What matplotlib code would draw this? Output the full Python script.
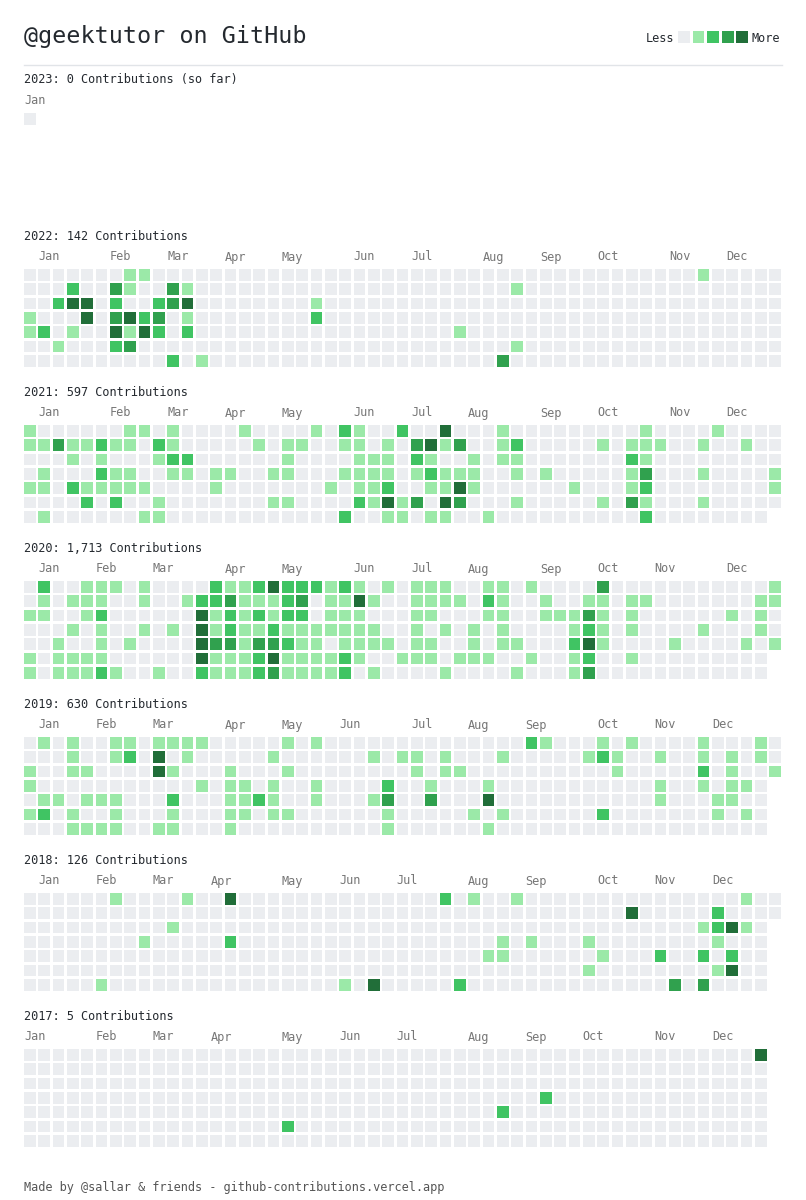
"""
Calendario de contribuciones de GitHub (@geektutor), 2017-2023.
Cada celda es un día; el color indica el nivel de actividad (0-4).
"""

import datetime as dt

import matplotlib
matplotlib.use("Agg")
import matplotlib.pyplot as plt
from matplotlib.patches import Rectangle

USER = "geektutor"
YEARS = [2023, 2022, 2021, 2020, 2019, 2018, 2017]
TOTALS = [0, 142, 597, 1713, 630, 126, 5]
LAST_DAYS = ["2023-01-01", "2022-12-31", "2021-12-31", "2020-12-31",
             "2019-12-31", "2018-12-31", "2017-12-30"]
MONTHS = ["Jan", "Feb", "Mar", "Apr", "May", "Jun",
          "Jul", "Aug", "Sep", "Oct", "Nov", "Dec"]
LEVEL_COLORS = ["#ebedf0", "#9be9a8", "#40c463", "#30a14e", "#216e39"]

# niveles por fila (Dom..Sáb): {semana: nivel}; lo que no aparece es 0
LEVELS_2023 = [{}, {}, {}, {}, {}, {}, {}]
LEVELS_2022 = [
    {7: 1, 8: 1, 47: 1},
    {3: 2, 6: 3, 7: 1, 10: 3, 11: 1, 34: 1},
    {2: 2, 3: 4, 4: 4, 6: 2, 9: 2, 10: 3, 11: 4, 20: 1},
    {0: 1, 4: 4, 6: 3, 7: 4, 8: 2, 9: 3, 11: 1, 20: 2},
    {0: 1, 1: 2, 3: 1, 6: 4, 7: 1, 8: 4, 9: 2, 11: 2, 30: 1},
    {2: 1, 6: 2, 7: 3, 34: 1},
    {10: 2, 12: 1, 33: 3},
]
LEVELS_2021 = [
    {0: 1, 7: 1, 8: 1, 10: 1, 15: 1, 20: 1, 22: 2, 23: 1, 26: 2, 29: 4,
     33: 1, 43: 1, 48: 1},
    {0: 1, 1: 1, 2: 3, 3: 1, 4: 1, 5: 2, 6: 1, 7: 1, 9: 2, 10: 1, 16: 1,
     18: 1, 19: 1, 22: 1, 23: 1, 25: 1, 27: 3, 28: 4, 29: 1, 30: 3, 33: 1,
     34: 2, 40: 1, 42: 1, 43: 1, 44: 1, 47: 1, 50: 1},
    {3: 1, 5: 1, 9: 1, 10: 2, 11: 2, 18: 1, 23: 1, 24: 1, 25: 1, 27: 2,
     28: 1, 31: 1, 33: 1, 34: 1, 42: 2, 43: 1},
    {1: 1, 5: 2, 6: 1, 7: 1, 10: 1, 11: 1, 13: 1, 14: 1, 17: 1, 18: 1,
     22: 1, 23: 1, 24: 1, 25: 1, 27: 1, 28: 2, 29: 1, 30: 1, 31: 1, 34: 1,
     36: 1, 42: 1, 43: 3, 47: 1, 52: 1},
    {0: 1, 1: 1, 3: 2, 4: 1, 5: 1, 6: 1, 7: 1, 8: 1, 13: 1, 21: 1, 23: 1,
     24: 1, 25: 2, 28: 1, 29: 1, 30: 4, 31: 1, 38: 1, 42: 1, 43: 2, 52: 1},
    {4: 2, 6: 2, 9: 1, 17: 1, 18: 1, 23: 2, 24: 1, 25: 4, 26: 1, 27: 3,
     29: 4, 30: 3, 34: 1, 40: 1, 42: 3, 43: 1, 47: 1},
    {1: 1, 8: 1, 9: 1, 22: 2, 25: 1, 26: 1, 28: 1, 29: 1, 32: 1, 43: 2},
]
LEVELS_2020 = [
    {1: 2, 4: 1, 5: 1, 6: 1, 8: 1, 13: 2, 14: 1, 15: 1, 16: 2, 17: 4,
     18: 2, 19: 2, 20: 2, 21: 1, 22: 2, 23: 1, 25: 1, 27: 1, 28: 1, 29: 1,
     32: 1, 33: 1, 35: 1, 40: 3, 52: 1},
    {1: 1, 3: 1, 4: 1, 5: 1, 8: 1, 11: 1, 12: 2, 13: 2, 14: 3, 15: 1,
     16: 1, 17: 1, 18: 2, 19: 3, 21: 1, 22: 1, 23: 4, 24: 1, 27: 1, 28: 1,
     29: 1, 30: 1, 32: 2, 33: 1, 36: 1, 39: 1, 40: 1, 42: 1, 43: 1, 51: 1,
     52: 1},
    {0: 1, 1: 1, 4: 1, 5: 2, 12: 4, 13: 1, 14: 2, 15: 1, 16: 2, 17: 1,
     18: 2, 19: 2, 21: 1, 22: 1, 23: 1, 27: 1, 28: 1, 32: 1, 33: 1, 36: 1,
     37: 1, 38: 1, 39: 3, 40: 1, 42: 1, 49: 1, 51: 1},
    {3: 1, 5: 1, 8: 1, 10: 1, 12: 4, 13: 1, 14: 2, 15: 1, 16: 1, 17: 2,
     18: 1, 19: 1, 20: 1, 21: 1, 22: 1, 23: 1, 24: 1, 27: 1, 29: 1, 31: 1,
     33: 1, 38: 1, 39: 2, 40: 1, 42: 1, 47: 1, 51: 1},
    {2: 1, 5: 1, 7: 1, 12: 4, 13: 3, 14: 3, 15: 1, 16: 3, 17: 3, 18: 2,
     19: 1, 20: 1, 22: 1, 23: 1, 24: 1, 25: 1, 27: 1, 28: 1, 31: 1, 33: 1,
     34: 1, 38: 2, 39: 4, 40: 1, 45: 1, 50: 1, 52: 1},
    {0: 1, 2: 1, 3: 1, 4: 1, 5: 1, 12: 4, 13: 1, 14: 1, 15: 1, 16: 2,
     17: 4, 18: 1, 19: 1, 20: 1, 21: 1, 22: 2, 23: 1, 26: 1, 27: 1, 28: 1,
     30: 1, 31: 1, 32: 1, 35: 1, 38: 1, 39: 2, 42: 1},
    {0: 1, 2: 1, 3: 1, 4: 1, 5: 2, 6: 1, 9: 1, 12: 2, 13: 1, 14: 1, 15: 1,
     16: 2, 17: 3, 18: 1, 19: 1, 20: 1, 21: 1, 22: 2, 24: 1, 29: 1, 34: 1,
     38: 1, 39: 3},
]
LEVELS_2019 = [
    {1: 1, 3: 1, 6: 1, 7: 1, 9: 1, 10: 1, 11: 1, 12: 1, 18: 1, 20: 1,
     35: 2, 36: 1, 40: 1, 42: 1, 47: 1, 51: 1},
    {3: 1, 6: 1, 7: 2, 9: 4, 11: 1, 17: 1, 24: 1, 26: 1, 27: 1, 29: 1,
     33: 1, 39: 1, 40: 2, 41: 1, 44: 1, 47: 1, 49: 1, 51: 1},
    {0: 1, 3: 1, 4: 1, 9: 4, 10: 1, 14: 1, 18: 1, 27: 1, 29: 1, 30: 1,
     41: 1, 47: 2, 49: 1, 52: 1},
    {0: 1, 12: 1, 14: 1, 15: 1, 17: 1, 20: 1, 25: 2, 28: 1, 32: 1, 44: 1,
     47: 1, 49: 1, 50: 1},
    {1: 1, 2: 1, 4: 1, 5: 1, 6: 1, 10: 2, 14: 1, 15: 1, 16: 2, 17: 1,
     20: 1, 24: 1, 25: 3, 28: 3, 32: 4, 44: 1, 48: 1, 49: 1},
    {0: 1, 1: 2, 3: 1, 6: 1, 10: 1, 14: 1, 15: 1, 17: 1, 18: 1, 25: 1,
     31: 1, 33: 1, 40: 2, 48: 1, 50: 1},
    {3: 1, 4: 1, 5: 1, 6: 1, 9: 1, 10: 1, 14: 1, 25: 1, 32: 1},
]
LEVELS_2018 = [
    {6: 1, 11: 1, 14: 4, 29: 2, 31: 1, 34: 1, 50: 1},
    {42: 4, 48: 2},
    {10: 1, 47: 1, 48: 2, 49: 4, 50: 1},
    {8: 1, 14: 2, 33: 1, 35: 1, 39: 1, 48: 1},
    {32: 1, 33: 1, 40: 1, 44: 2, 47: 2, 49: 2},
    {39: 1, 48: 1, 49: 4},
    {5: 1, 22: 1, 24: 4, 30: 2, 45: 3, 47: 3},
]
LEVELS_2017 = [
    {51: 4},
    {},
    {},
    {36: 2},
    {33: 2},
    {18: 2},
    {},
]
LEVELS = [LEVELS_2023, LEVELS_2022, LEVELS_2021, LEVELS_2020,
          LEVELS_2019, LEVELS_2018, LEVELS_2017]

# medidas en píxeles
LEFT = 24
RIGHT = 782
PITCH = 14.33
CELL = 11.8
FIRST_TOP = 113
BLOCK = 156

TEXT = "#24292f"
MUTED = "#767676"


def inicio_calendario(year):
    """Domingo en o antes del 1 de enero."""
    d = dt.date(year, 1, 1)
    return d - dt.timedelta(days=(d.weekday() + 1) % 7)


def dibujar_anio(ax, top, year, total, last_day, levels):
    start = inicio_calendario(year)
    end = dt.date.fromisoformat(last_day)

    label = f"{year}: {total:,} Contributions"
    if year == YEARS[0]:
        label += " (so far)"
    ax.text(LEFT, top - 33, label, fontsize=8.6, color=TEXT,
            ha="left", va="center")

    # etiquetas de mes en la semana del primer domingo del mes
    for m, name in enumerate(MONTHS, start=1):
        d = dt.date(year, m, 1)
        d += dt.timedelta(days=(6 - d.weekday()) % 7)
        if d > end:
            continue
        col = (d - start).days // 7
        ax.text(LEFT + col * PITCH, top - 12, name, fontsize=8.6,
                color=MUTED, ha="left", va="center")

    n_days = (end - start).days + 1
    for i in range(n_days):
        col, row = divmod(i, 7)
        lvl = levels[row].get(col, 0)
        ax.add_patch(Rectangle((LEFT + col * PITCH, top + row * PITCH),
                               CELL, CELL, facecolor=LEVEL_COLORS[lvl],
                               edgecolor="none"))


def main():
    plt.rcParams["font.family"] = ["DejaVu Sans Mono", "DejaVu Sans"]
    fig = plt.figure(figsize=(8.06, 12), dpi=100)
    ax = fig.add_axes([0, 0, 1, 1])
    ax.set_xlim(0, 806)
    ax.set_ylim(1200, 0)
    ax.axis("off")

    ax.text(LEFT, 37, f"@{USER} on GitHub", fontsize=16.8, color=TEXT,
            ha="left", va="center")

    # leyenda: Less [0..4] More
    box0 = 678
    for k, color in enumerate(LEVEL_COLORS):
        ax.add_patch(Rectangle((box0 + k * 14.6, 31), 11.8, 11.8,
                               facecolor=color, edgecolor="none"))
    ax.text(box0 - 4, 38, "Less", fontsize=8.6, color=TEXT, ha="right",
            va="center")
    ax.text(box0 + 5 * 14.6 + 1, 38, "More", fontsize=8.6, color=TEXT,
            ha="left", va="center")

    ax.plot([LEFT, RIGHT], [65, 65], color="#e1e4e8", lw=1)

    for i, year in enumerate(YEARS):
        dibujar_anio(ax, FIRST_TOP + i * BLOCK, year, TOTALS[i],
                     LAST_DAYS[i], LEVELS[i])

    ax.text(LEFT, 1188,
            "Made by @sallar & friends - github-contributions.vercel.app",
            fontsize=8.6, color="#555555", ha="left", va="center")

    fig.savefig("out.png", dpi=100, facecolor="white")
    plt.close(fig)


if __name__ == "__main__":
    main()
